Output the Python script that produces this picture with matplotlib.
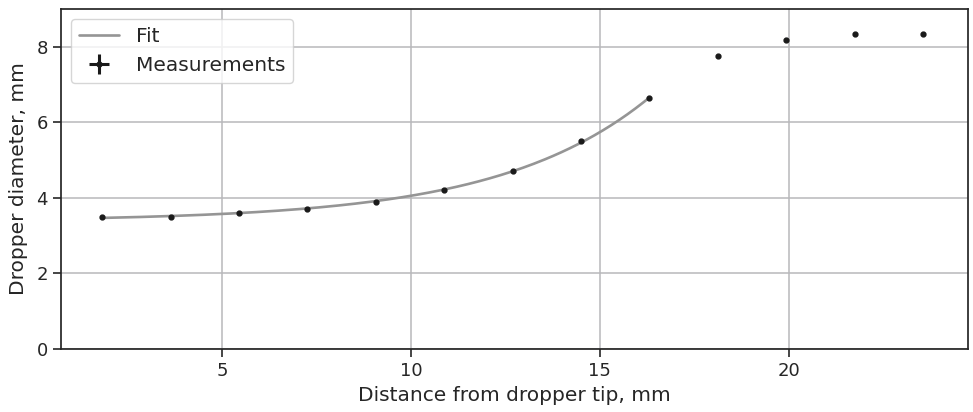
import matplotlib
matplotlib.use('Agg')
import matplotlib.pyplot as plt
import numpy as np
import seaborn as sns

distance = np.array([1.83, 3.64, 5.45, 7.26, 9.07, 10.88, 12.69, 14.50,
                     16.31, 18.12, 19.94, 21.75, 23.56])
diameter = np.array([3.50, 3.50, 3.61, 3.71, 3.90, 4.21, 4.70, 5.50,
                     6.64, 7.77, 8.18, 8.33, 8.35])
distance_err = np.full(distance.shape, 0.05)
diameter_err = np.full(diameter.shape, 0.03)
n_fit = 9  # points used for the fit


# Fit d = a + b*exp(c*x) on the first points
def exp_fit(x, y):
    best = None
    for c in np.linspace(0.01, 1.0, 2000):
        A = np.vstack([np.ones_like(x), np.exp(c * x)]).T
        coef, res, _, _ = np.linalg.lstsq(A, y, rcond=None)
        r = np.sum((A @ coef - y) ** 2)
        if best is None or r < best[0]:
            best = (r, coef[0], coef[1], c)
    return best[1:]


a, b, c = exp_fit(distance[:n_fit], diameter[:n_fit])
x_fit = np.linspace(distance[0], distance[n_fit - 1], 200)
y_fit = a + b * np.exp(c * x_fit)

sns.set_style('ticks')
plt.rcParams['font.family'] = ['DejaVu Sans']

fig = plt.figure(figsize=(9.73, 4.12), dpi=100)
ax = fig.add_axes([0.0627, 0.153, 0.932, 0.825])

ax.plot(x_fit, y_fit, color='#959595', lw=1.9, label='Fit', zorder=2)
ax.errorbar(distance, diameter, xerr=distance_err, yerr=diameter_err,
            fmt='o', ms=3.5, color='#1a1a1a', ecolor='#1a1a1a',
            elinewidth=2.2, label='Measurements', zorder=3)

ax.set_xlim(0.74, 24.74)
ax.set_ylim(0, 9)
ax.set_xticks([5, 10, 15, 20])
ax.set_yticks([0, 2, 4, 6, 8])
ax.grid(True, color='#b8b8bb', lw=1.1)
ax.tick_params(labelsize=13, length=6, width=1.2, colors='#262626')
for s in ax.spines.values():
    s.set_color('#262626')
    s.set_linewidth(1.25)

ax.set_xlabel('Distance from dropper tip, mm', fontsize=14.5, color='#262626', labelpad=4.5)
ax.set_ylabel('Dropper diameter, mm', fontsize=14.5, color='#262626', labelpad=6)
ax.legend(loc='upper left', fontsize=14.5, framealpha=0.8)

fig.savefig('out.png', dpi=100)
